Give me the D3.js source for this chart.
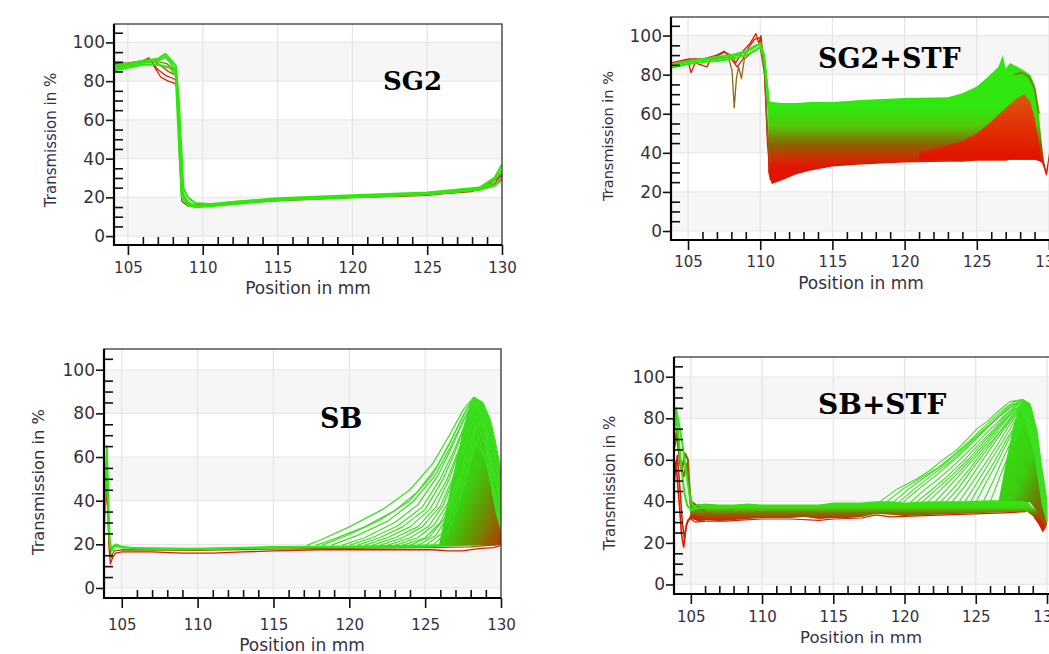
<!DOCTYPE html>
<html>
<head>
<meta charset="utf-8">
<script src="https://cdn.jsdelivr.net/npm/d3@7"></script>
<style>
body { margin: 0; background: #fff; }
</style>
</head>
<body>
<svg id="chart" width="1049" height="654"></svg>
<script>
// axis ticks
const xMajor = [105, 110, 115, 120, 125, 130];
const xMinor = d3.range(105, 130).filter(v => v % 5 !== 0);
const yMajor = [0, 20, 40, 60, 80, 100];
const yMinor = [5, 10, 15, 25, 30, 35, 45, 50, 55, 65, 70, 75, 85, 90, 95, 105];
const bands = [[0, 20], [40, 60], [80, 100]];

const GREEN = "#30e60f", OLIVE = "#7f7000", RED = "#d81e00", FAN = "#3ce020";

// ---- SG2 ----
const sg2Red1 = [[104.07,89],[105,89.5],[106,90.5],[106.4,92],[106.8,87],[107.2,82],[107.7,80],[108.1,79],[108.3,77],[108.45,40],[108.6,18],[109,15.5],[110,15.5],[112,17],[115,18.5],[118,19.5],[120,20],[123,20.5],[125,21],[127,22.5],[128.5,24],[129.5,26],[130,30]];
const sg2Red2 = [[104.07,88.5],[105,89],[106,90],[106.5,91],[107,86],[107.5,83],[108,81.5],[108.3,80],[108.45,50],[108.6,20],[109,16],[110,15.8],[113,17.5],[116,18.5],[120,20],[124,21],[128,23],[129.5,27],[130,32]];
const sg2Red3 = [[104.07,88],[105,89],[106,90],[106.7,90.5],[107.2,88],[107.7,85],[108.2,83],[108.4,60],[108.6,22],[109,16.5],[110,16],[115,19],[120,20.5],[125,21.5],[128.5,24],[130,31]];
const sg2Olive = [[104.07,87],[105,88.5],[106,90],[107,90],[107.6,89],[108.2,85],[108.4,65],[108.6,22],[109.2,16],[110,16],[115,19],[120,20.5],[125,22],[128.5,24.5],[130,32]];
const sg2GreenLow = [[104.07,85.5],[105,87],[106,88.5],[107,88.5],[107.8,87],[108.2,83],[108.4,50],[108.6,20],[109,16],[109.5,15],[110.5,15.5],[115,18.5],[120,20],[125,21.5],[128.5,24],[129.5,26],[130,29]];
const sg2GreenMid = [[104.07,86.5],[105,88],[106,89.5],[107,90.5],[107.5,92.5],[107.8,90],[108.2,85],[108.4,60],[108.6,25],[108.8,19],[109.2,16.5],[109.7,15.5],[110.5,16],[112,17.5],[115,19],[118,20],[120,20.5],[122,21],[125,22],[127,23],[128.5,25],[129.3,27],[130,34]];
const sg2GreenHigh = [[104.07,88],[105,89],[106,90.5],[107,91.5],[107.5,94],[108.2,88],[108.4,70],[108.7,25],[109,20],[109.5,17],[110.5,16.5],[115,19.5],[120,21],[125,22.5],[128.5,25],[129.5,30],[130,37]];

// ---- SG2+STF ----
const stfRedA = [[103.82,85],[105,87.5],[105.2,81],[105.5,86],[106.3,84],[106.6,88],[107,89.5],[107.5,91.5],[108,90],[108.3,86],[108.8,92],[109.3,96],[109.7,101],[109.9,96],[110.05,100],[110.3,80],[110.5,45],[110.7,26]];
const stfRedB = [[103.82,86],[105,88],[106,88],[107,90],[107.5,92],[108,88],[108.4,84],[108.8,88],[109.2,94],[109.6,98],[110,99],[110.3,85],[110.5,50],[110.7,30]];
const stfOliveDip = [[103.82,85],[105,87],[106,87.5],[107,88.5],[107.8,89],[108.05,82],[108.2,63],[108.35,78],[108.5,84],[108.7,78],[108.9,88],[109.5,92],[110,94],[110.3,80],[110.5,50],[110.7,35]];
const stfGreenA = [[103.82,83.5],[105,85.5],[106,86.5],[107,87],[108,88],[109,90],[109.6,92],[110,94],[110.2,92],[110.4,80],[110.6,66]];
const stfGreenB = [[103.82,84.5],[105,86.5],[106,87.5],[107,88],[108,89],[109,91.5],[109.6,94],[110,96],[110.25,90],[110.45,75],[110.6,62]];
const stfGreenC = [[103.82,85],[105,87],[106,88],[107,89],[108,90],[109,92],[109.7,95],[110,95],[110.3,88],[110.5,70],[110.6,58]];
// [x, low, high]
const stfBand = [[110.55,30,66],[110.8,24,66],[111.5,26,65.5],[112.5,29,65.5],[113.5,31,66],[115,33,66],[117,34,67],[120,35,68],[123,35.5,68.5],[124,35.5,70.5],[125,36,74],[125.8,36,79],[126.5,36,84],[126.8,36,90],[127,36,83],[127.3,36.5,86],[127.8,36.5,84],[128.3,36.5,82],[128.7,36.5,80],[129,36.5,75],[129.3,36,60],[129.5,35,45],[129.65,32,36],[129.8,28,31],[129.9,30,35],[130,36,40]];
const stfRedHump = [[121,36,40],[122.5,36.5,43],[124,36.5,46],[125,36.5,50],[126,36.5,56],[127,36.5,63],[127.8,36.5,68],[128.3,36.5,70],[128.7,36.5,66],[129,36.5,58],[129.3,36,45],[129.45,35,38]];
const stfPeakEdge = [[127.6,80],[128.1,81],[128.6,79],[129,73],[129.3,60]];

// ---- SB ----
const sbRed = [[103.83,30],[104.02,45],[104.15,20],[104.25,11],[104.4,14],[104.6,16],[105,16.5],[107,16.5],[109,16],[111,16],[113,16.5],[115,17],[118,17.5],[120,17.5],[123,17.5],[125.5,17.5],[126.5,17],[127.5,17],[128.5,18],[129.5,18.5],[130,19.5]];
const sbOlive = [[103.83,35],[104.03,55],[104.15,25],[104.3,14],[104.5,17],[105,17.5],[110,17.2],[115,17.8],[120,18.2],[125,18.5],[128,18.8],[130,20]];
const sbGreen = [[103.83,30],[104.02,65],[104.1,45],[104.2,22],[104.35,17],[104.6,20],[105,19],[106,18],[110,18],[115,18.8],[120,19],[125,19.5],[128,20],[129,20.5],[130,22]];
const sbGreen2 = [[103.83,25],[104.02,60],[104.12,30],[104.25,18],[104.5,19.5],[105,18.5],[110,17.8],[115,18.5],[120,18.8],[125,19],[130,20.5]];
const sbFan = [
  [[117.2,19.5],[118.1,22],[120,28],[122.2,36],[124,45],[125.5,57],[126.6,70],[127.5,81.5],[128.2,87.5],[128.8,85],[129.3,77],[129.6,68],[130,54]],
  [[117.8,19.5],[119,22.5],[121,28],[123,35.5],[124.5,44],[125.8,56],[126.8,69],[127.6,80],[128.2,87],[128.8,84],[129.3,75],[129.7,62],[130,52]],
  [[118.2,19.5],[120,24.5],[122,31],[124,40],[125.5,52],[126.6,66],[127.5,79],[128.1,86],[128.7,84],[129.2,76],[129.6,62],[130,48]],
  [[118.8,19.5],[120.5,24],[122.5,30.5],[124.2,39.5],[125.6,51],[126.7,65],[127.6,78],[128.2,85.5],[128.8,82],[129.3,72],[130,46]],
  [[119.5,19.5],[121,23],[123,30],[124.5,38],[125.8,51],[126.8,65],[127.6,78],[128.2,85],[128.8,80],[129.3,68],[130,44]],
  [[120,19.5],[121.5,23],[123.2,28.5],[124.8,37],[126,50],[126.9,63],[127.7,76],[128.3,84.5],[128.9,79],[129.4,65],[130,42]],
  [[120.5,19.5],[122,23],[123.5,28],[125,36],[126.2,50],[127,63],[127.7,76],[128.3,84],[128.9,76],[129.4,60],[130,40]],
  [[121,19.5],[122.5,23],[124,28],[125.3,36],[126.4,49],[127.2,63],[127.9,76],[128.4,83],[129,73],[129.5,55],[130,38]],
  [[121.5,19.5],[123,23],[124.5,28],[125.7,37],[126.6,50],[127.3,64],[128,77],[128.4,83],[129,70],[129.5,52],[130,36]],
  [[122,19.5],[123.5,23],[124.8,28],[126,37.5],[126.8,50],[127.5,64],[128.2,77],[128.6,82],[129.1,71],[129.6,50],[130,34]],
  [[122.5,19.5],[124,23],[125.2,28],[126.2,38],[127,52],[127.7,66],[128.3,79],[128.9,72],[129.5,48],[130,32]],
  [[123,19.5],[124.5,23],[125.6,29],[126.5,39],[127.3,53],[128,68],[128.5,79],[129,70],[129.6,45],[130,31]],
  [[123.5,19.5],[125,23],[126,30],[126.8,42],[127.5,57],[128.2,73],[128.6,80],[129.1,66],[129.6,42],[130,30]],
  [[124,19.5],[125.3,23.5],[126.3,32],[127,44],[127.8,60],[128.4,74],[129,66],[129.6,40],[130,29]],
  [[124.5,19.5],[125.7,24],[126.6,34],[127.3,48],[128,64],[128.5,76],[129.1,60],[129.7,36],[130,28]],
  [[125,19.5],[126.1,25],[126.9,36],[127.6,51],[128.3,67],[129,60],[129.7,34],[130,27]],
  [[125.5,19.5],[126.5,26],[127.2,38],[127.9,55],[128.5,70],[129.2,52],[130,26]]
];
const sbTail = [[125.9,19.5,19.5],[126.5,19.5,40],[127.1,19.5,60],[127.6,19.5,76],[128.0,19.5,85],[128.2,19.5,87.5],[128.5,19.5,86.5],[128.84,19.5,84.7],[129.28,19.5,77],[129.6,19.5,68],[129.94,20,54],[130,20,54]];

// ---- SB+STF ----
const sbStfBand = [[104.95,32,38],[105.5,30.5,38.5],[106,31,39],[107,30.5,38.5],[108,31,38.5],[109,31.5,39],[110,32,38.5],[111,32,38.5],[112,32,38.5],[113,32.5,38.5],[114,31.5,38.5],[115,32,39.5],[116,32,39.5],[117,32.5,39.5],[118,34,40],[119,33.5,40],[120,33,39.5],[122,33.5,40],[124,34,40],[126,34.5,40.5],[128,35,40.5],[128.6,35,40],[129,33,37],[129.4,29,35],[129.7,25,33],[129.9,27,33],[130,30,35]];
const sbStfRed = [[104.9,32],[105.3,30],[106,30.5],[107.5,30.5],[108.5,31],[110,31.5],[112,31.5],[114,30.8],[115,31.5],[117,32],[118,33.5],[119,32.5],[121,33],[123,33.5],[125,34],[127,34.5],[128.5,35]];
const sbStfSpikeRed = [[103.85,60],[104,55],[104.2,38],[104.35,24],[104.5,18],[104.65,27],[104.8,31],[105,32],[105.5,31],[106,31]];
const sbStfSpikeRed2 = [[103.85,50],[104.05,62],[104.25,45],[104.4,30],[104.55,22],[104.7,29],[105,33],[106,32]];
const sbStfSpikeOlive = [[103.85,70],[104,72],[104.2,62],[104.4,56],[104.6,63],[104.8,60],[104.9,45],[105,38],[105.3,36],[106,36]];
const sbStfSpikeOlive2 = [[103.85,66],[104.05,75],[104.25,58],[104.5,52],[104.7,58],[104.85,50],[105,40],[106,35]];
const sbStfSpikeGreen = [[103.85,80],[103.95,85],[104.2,76],[104.4,68],[104.6,58],[104.8,48],[105,40],[105.2,37],[105.5,38.5],[106,38]];
const sbStfSpikeGreen2 = [[103.85,74],[103.95,82],[104.15,70],[104.35,55],[104.55,44],[104.75,38],[105,36],[106,37]];
const sbStfFan = [
  [[118.2,39.5],[119.5,46],[120.9,51],[121.8,55],[122.5,59],[123.7,65],[124.4,70],[125.1,75],[125.8,78.5],[126.5,83],[127.4,88],[128.3,89],[128.8,87],[129.3,74],[129.6,58],[129.9,45],[130,38]],
  [[118.7,39.5],[119.9,46],[121.2,51.5],[122.3,56],[123.4,62],[124.4,68],[125.3,74],[126.1,79],[126.9,84],[127.7,88],[128.3,89],[128.9,85],[129.5,60],[130,37]],
  [[119.2,39.5],[120.3,46],[121.5,52],[122.8,58],[124,65],[125,71],[125.8,76],[126.6,81],[127.4,86],[128.2,88.5],[128.9,84],[129.5,60],[130,36]],
  [[119.6,39.5],[120.7,46],[121.9,52.5],[123.2,59],[124.3,66],[125.3,72.5],[126.2,78],[127,83],[127.8,87],[128.3,88.5],[129,82],[129.6,55],[130,35]],
  [[119.9,39.5],[121,46],[122.3,53],[123.5,60],[124.6,67],[125.6,74],[126.5,80],[127.4,85],[128.2,88],[129,80],[129.6,52],[130,34]],
  [[120.4,39.5],[121.4,45.5],[122.6,52],[123.8,59.5],[125,67.5],[126,74.5],[126.9,80.5],[127.7,85.5],[128.3,87.5],[129,79],[129.6,51],[130,34]],
  [[120.8,39.5],[121.8,45],[123,52],[124.2,60],[125.3,68],[126.3,75],[127.2,82],[128,87],[128.9,78],[129.6,50],[130,33]],
  [[121.2,39.5],[122.2,45.5],[123.4,53],[124.6,61],[125.6,69],[126.6,76.5],[127.5,83],[128.2,86.5],[128.9,77],[129.6,49],[130,33]],
  [[121.6,39.5],[122.6,46],[123.8,54],[124.9,62],[125.9,70],[126.9,78],[127.8,85],[128.7,80],[129.5,52],[130,32]],
  [[122.1,39.5],[123,46],[124.1,54.5],[125.2,63],[126.2,71],[127.1,79],[127.9,85],[128.7,78],[129.6,47],[130,32]],
  [[122.5,39.5],[123.4,46],[124.5,55],[125.5,64],[126.5,72],[127.4,80],[128.1,86],[128.8,76],[129.6,46],[130,31]],
  [[122.9,39.5],[123.8,46.5],[124.8,56],[125.8,65],[126.7,73.5],[127.6,81],[128.2,86],[128.9,74],[129.6,45],[130,31]],
  [[123.3,39.5],[124.2,47],[125.2,57],[126.1,66],[127,75],[127.8,82],[128.4,87],[129,72],[129.6,44],[130,30]],
  [[123.8,39.5],[124.6,47.5],[125.6,57.5],[126.5,67],[127.3,76],[128,83],[128.4,86],[129,70],[129.7,42],[130,30]],
  [[124.2,39.5],[125,48],[125.9,58],[126.8,68],[127.6,77],[128.3,85],[129,68],[129.7,40],[130,30]],
  [[124.6,39.5],[125.4,49],[126.3,59],[127.1,69],[127.9,78],[128.5,85],[129.1,67],[129.7,39],[130,30]],
  [[125,39.5],[125.8,50],[126.6,60],[127.4,71],[128.1,80],[128.6,86],[129.1,66],[129.7,38],[130,30]],
  [[125.5,39.5],[126.3,51],[127,62],[127.8,73],[128.4,81],[129.1,64],[129.7,37]],
  [[126,39.5],[126.7,52],[127.4,64],[128.1,75],[128.6,82],[129.2,62],[129.8,35]]
];
const sbStfTail = [[126.6,40,40],[127.2,40,62],[127.7,40,78],[128.1,40,86],[128.3,40,89],[128.8,39.5,87],[129.3,35,74],[129.6,31,58],[129.9,27,45],[130,29,40]];

const svg = d3.select("#chart");
const defs = svg.append("defs");

function grad(id, x1, y1, x2, y2, stops, user) {
  const lg = defs.append("linearGradient").attr("id", id)
    .attr("x1", x1).attr("y1", y1).attr("x2", x2).attr("y2", y2);
  if (user) lg.attr("gradientUnits", "userSpaceOnUse");
  stops.forEach(s => lg.append("stop").attr("offset", s[0]).attr("stop-color", s[1]));
  return "url(#" + id + ")";
}

function curve(g, x, y, pts, color, w) {
  g.append("path").datum(pts)
    .attr("fill", "none").attr("stroke", color).attr("stroke-width", w)
    .attr("stroke-linejoin", "round")
    .attr("d", d3.line().x(d => x(d[0])).y(d => y(d[1])));
}
function band(g, x, y, pts, fill) {
  g.append("path").datum(pts).attr("fill", fill)
    .attr("d", d3.area().x(d => x(d[0])).y0(d => y(d[1])).y1(d => y(d[2])));
}

const panels = [
  { id: "p1", title: "SG2", left: 114, right: 502, frameRight: 502, top: 24, bottom: 245, xMin: 104.07,
    titleX: 383, titleY: 90, titleSize: 26, yTitle: [51, 140, 15], xTitle: [308, 294, 17], xPad: 7,
    draw(g, x, y) {
      [sg2Red1, sg2Red2, sg2Red3].forEach(c => curve(g, x, y, c, RED, 1.2));
      curve(g, x, y, sg2Olive, OLIVE, 1.2);
      [sg2GreenLow, sg2GreenMid, sg2GreenHigh].forEach(c => curve(g, x, y, c, GREEN, 2.2));
    } },
  { id: "p2", title: "SG2+STF", left: 671, right: 1049, frameRight: 1053, top: 17, bottom: 240, xMin: 103.82,
    titleX: 818, titleY: 68, titleSize: 27, yTitle: [608, 136, 14.5], xTitle: [861, 289, 17], xPad: 6,
    draw(g, x, y) {
      band(g, x, y, stfBand, grad("gStf", 0, y(63), 0, y(32), [[0, GREEN], [0.3, "#52c80a"], [0.6, "#8a6400"], [0.85, "#d42a00"], [1, "#e01400"]], true));
      curve(g, x, y, stfPeakEdge, "#6f8a00", 2);
      band(g, x, y, stfRedHump, grad("gHump", 0, y(70), 0, y(38), [[0, "#d85a10"], [0.4, "#e23a08"], [1, "#e01400"]], true));
      [stfRedA, stfRedB].forEach(c => curve(g, x, y, c, RED, 1.3));
      curve(g, x, y, stfOliveDip, "#8a6a10", 1.3);
      [stfGreenA, stfGreenB, stfGreenC].forEach(c => curve(g, x, y, c, GREEN, 2));
    } },
  { id: "p3", title: "SB", left: 104, right: 501, frameRight: 501, top: 349, bottom: 598, xMin: 103.83,
    titleX: 320, titleY: 428, titleSize: 27, yTitle: [38, 482, 16.3], xTitle: [302, 651, 17], xPad: 11,
    draw(g, x, y) {
      curve(g, x, y, sbRed, RED, 1.3);
      curve(g, x, y, sbOlive, OLIVE, 1.3);
      curve(g, x, y, sbGreen2, GREEN, 1.8);
      curve(g, x, y, sbGreen, GREEN, 1.8);
      band(g, x, y, sbTail, grad("gSbTail", 0.25, 0.15, 1, 0.95, [[0, "#33e012"], [0.45, "#3ccc10"], [0.75, "#6e8a00"], [1, "#b04000"]]));
      sbFan.forEach(c => curve(g, x, y, c, FAN, 1.2));
    } },
  { id: "p4", title: "SB+STF", left: 674, right: 1047, frameRight: 1053, top: 357, bottom: 594, xMin: 103.82,
    titleX: 818, titleY: 414, titleSize: 28, yTitle: [610, 483, 15], xTitle: [861, 643, 16.5], xPad: 7,
    draw(g, x, y) {
      band(g, x, y, sbStfBand, grad("gSbStf", 0, y(39.5), 0, y(31), [[0, GREEN], [0.3, "#40d810"], [0.6, "#7a7800"], [1, "#d42000"]], true));
      curve(g, x, y, sbStfRed, RED, 1.2);
      [sbStfSpikeRed, sbStfSpikeRed2].forEach(c => curve(g, x, y, c, RED, 1.6));
      [sbStfSpikeOlive, sbStfSpikeOlive2].forEach(c => curve(g, x, y, c, "#8a6a00", 2.2));
      [sbStfSpikeGreen, sbStfSpikeGreen2].forEach(c => curve(g, x, y, c, GREEN, 2));
      band(g, x, y, sbStfTail, grad("gSbStfTail", 0.3, 0.1, 1, 1, [[0, "#33e012"], [0.45, "#3ccc10"], [0.75, "#6e7a00"], [1, "#a04a00"]]));
      sbStfFan.forEach(c => curve(g, x, y, c, FAN, 1.1));
    } }
];

panels.forEach(p => {
  const x = d3.scaleLinear().domain([p.xMin, 130]).range([p.left, p.right]);
  const y = d3.scaleLinear().domain([-4.6, 109.5]).range([p.bottom, p.top]);
  const g = svg.append("g");

  defs.append("clipPath").attr("id", "clip-" + p.id)
    .append("rect").attr("x", p.left).attr("y", p.top)
    .attr("width", p.frameRight - p.left).attr("height", p.bottom - p.top);

  // background bands + grid
  g.selectAll(".band").data(bands).join("rect")
    .attr("x", p.left).attr("width", p.frameRight - p.left)
    .attr("y", d => y(d[1])).attr("height", d => y(d[0]) - y(d[1]))
    .attr("fill", "#f6f6f6");
  g.selectAll(".vg").data(xMajor).join("line")
    .attr("x1", d => x(d)).attr("x2", d => x(d)).attr("y1", p.top).attr("y2", p.bottom)
    .attr("stroke", "#e4e4e4").attr("stroke-width", 1.2);
  g.selectAll(".hg").data(yMajor).join("line")
    .attr("x1", p.left).attr("x2", p.frameRight).attr("y1", d => y(d)).attr("y2", d => y(d))
    .attr("stroke", "#e8e8e8").attr("stroke-width", 1.2);

  const plot = g.append("g").attr("clip-path", "url(#clip-" + p.id + ")");
  p.draw(plot, x, y);

  // frame
  g.append("rect").attr("x", p.left).attr("y", p.top)
    .attr("width", p.frameRight - p.left).attr("height", p.bottom - p.top)
    .attr("fill", "none").attr("stroke", "#3a3a3a").attr("stroke-width", 1.3);

  // axes
  const xa = g.append("g").attr("transform", `translate(0,${p.bottom})`)
    .call(d3.axisBottom(x).tickValues(xMajor).tickSize(10).tickPadding(p.xPad).tickFormat(d3.format("d")));
  const xm = g.append("g").attr("transform", `translate(0,${p.bottom})`)
    .call(d3.axisBottom(x).tickValues(xMinor).tickSize(-8).tickFormat(""));
  const ya = g.append("g").attr("transform", `translate(${p.left},0)`)
    .call(d3.axisLeft(y).tickValues(yMajor).tickSize(8).tickPadding(1));
  const ym = g.append("g").attr("transform", `translate(${p.left},0)`)
    .call(d3.axisLeft(y).tickValues(yMinor).tickSize(-9).tickFormat(""));
  [xa, xm, ya, ym].forEach(a => {
    a.select(".domain").remove();
    a.selectAll("line").attr("stroke", "#111").attr("stroke-width", 1.6);
  });
  xa.selectAll("text").style("font-size", "15px").style("fill", "#35303f").style("font-family", "DejaVu Sans");
  ya.selectAll("text").style("font-size", "17px").style("fill", "#35303f").style("font-family", "DejaVu Sans");

  g.append("line").attr("x1", p.left).attr("x2", p.frameRight).attr("y1", p.bottom).attr("y2", p.bottom)
    .attr("stroke", "#000").attr("stroke-width", 2.2);
  g.append("line").attr("x1", p.left).attr("x2", p.left).attr("y1", p.top).attr("y2", p.bottom + 1)
    .attr("stroke", "#000").attr("stroke-width", 2.2);

  // axis titles
  g.append("text").attr("x", p.xTitle[0]).attr("y", p.xTitle[1])
    .attr("text-anchor", "middle")
    .style("font-family", "DejaVu Sans").style("font-size", p.xTitle[2] + "px").style("fill", "#35303f")
    .text("Position in mm");
  g.append("text").attr("transform", `translate(${p.yTitle[0]},${p.yTitle[1]}) rotate(-90)`)
    .attr("text-anchor", "middle").attr("dy", "0.35em")
    .style("font-family", "DejaVu Sans").style("font-size", p.yTitle[2] + "px").style("fill", "#35303f")
    .text("Transmission in %");

  // panel label
  g.append("text").attr("x", p.titleX).attr("y", p.titleY)
    .style("font-family", "'DejaVu Serif', serif").style("font-weight", "bold")
    .style("font-size", p.titleSize + "px").style("fill", "#000")
    .text(p.title);
});
</script>
</body>
</html>
